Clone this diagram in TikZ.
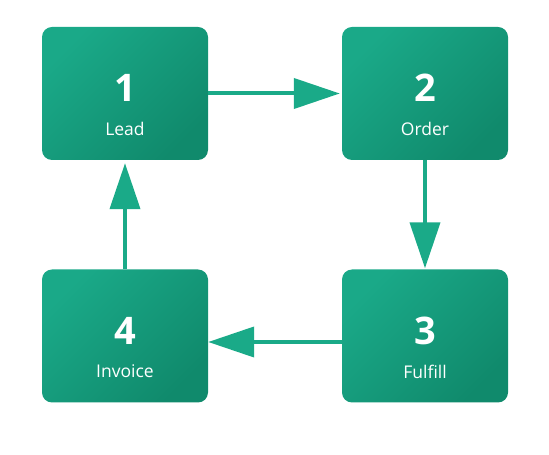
\documentclass[tikz,border=0pt]{standalone}
\usepackage{fontspec}
\setmainfont{Open Sans}
\usetikzlibrary{arrows.meta}
\definecolor{boxA}{HTML}{1AA988}
\definecolor{boxB}{HTML}{108A6C}
\definecolor{arr}{HTML}{1AAA88}
\tikzset{
  stepbox/.style={rectangle, rounded corners=10pt, minimum width=166pt, minimum height=133pt,
    inner sep=0pt, draw=none, top color=boxA, bottom color=boxB, shading angle=45},
  numtxt/.style={text=white, font=\fontsize{38}{40}\selectfont\bfseries, inner sep=0pt},
  labtxt/.style={text=white, font=\fontsize{17.5}{19}\selectfont, inner sep=0pt},
  flow/.style={draw=arr, line width=4pt, -{Triangle[length=46pt,width=30pt,fill=arr]}}
}
\begin{document}
\begin{tikzpicture}[x=1pt,y=1pt]
\useasboundingbox (0,0) rectangle (549,455);
\node[stepbox] (b1) at (125,361.5) {};
\node[stepbox] (b2) at (425,361.5) {};
\node[stepbox] (b3) at (425,119) {};
\node[stepbox] (b4) at (125,119) {};
\node[numtxt] (n1) at ([yshift=5.5pt]b1.center) {1};
\node[labtxt] (l1) at ([yshift=-35.5pt]b1.center) {Lead};
\node[numtxt] (n2) at ([yshift=5.5pt]b2.center) {2};
\node[labtxt] (l2) at ([yshift=-35.5pt]b2.center) {Order};
\node[numtxt] (n3) at ([yshift=5.5pt]b3.center) {3};
\node[labtxt] (l3) at ([yshift=-35.5pt]b3.center) {Fulfill};
\node[numtxt] (n4) at ([yshift=5.5pt]b4.center) {4};
\node[labtxt] (l4) at ([yshift=-35.5pt]b4.center) {Invoice};
\draw[flow] (b1.east) -- ([xshift=-2pt]b2.west);
\draw[flow] (b2.south) -- ([yshift=1pt]b3.north);
\draw[flow] ([yshift=-6pt]b3.west) -- ([yshift=-6pt]b4.east);
\draw[flow] (b4.north) -- ([yshift=-3pt]b1.south);
\end{tikzpicture}
\end{document}
